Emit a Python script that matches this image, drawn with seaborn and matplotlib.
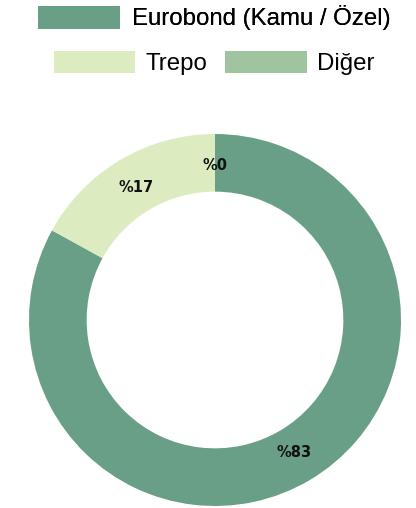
import matplotlib
matplotlib.use("Agg")
import matplotlib.pyplot as plt
import seaborn as sns
from matplotlib.patches import Patch

categories = ["Eurobond (Kamu / Özel)", "Trepo", "Diğer"]
values = [83, 17, 0]
colors = ["#6A9F87", "#DCECC0", "#A0C4A0"]

sns.set_theme(style="white")
plt.rcParams['font.family'] = ['Liberation Sans', 'DejaVu Sans']

W, H = 416, 508
fig = plt.figure(figsize=(W / 100, H / 100), dpi=100)
cx, cy, R = 215, 320, 186
ax = fig.add_axes([(cx - R) / W, (H - cy - R) / H, 2 * R / W, 2 * R / H])

wedges, texts, autotexts = ax.pie(
    values, colors=colors, startangle=90, counterclock=False,
    autopct='%%%.0f', pctdistance=0.83,
    wedgeprops=dict(width=0.31, linewidth=0),
    textprops=dict(fontsize=10.5, fontweight='bold', color='#111111', family='DejaVu Sans'),
)
ax.set_xlim(-1, 1)
ax.set_ylim(-1, 1)
ax.set_aspect('equal')
ax.axis('off')

fs = 17.3
handles = [Patch(facecolor=c, edgecolor='none') for c in colors]
leg1 = fig.legend([handles[0]], [categories[0]], loc='center', bbox_to_anchor=(214 / W, 1 - 18 / H),
                  frameon=False, fontsize=fs, handlelength=3.4, handleheight=1.08,
                  handletextpad=0.5, labelcolor='black', borderpad=0.1)
leg2 = fig.legend(handles[1:], categories[1:], loc='center', bbox_to_anchor=(214 / W, 1 - 63 / H),
                  ncol=2, frameon=False, fontsize=fs, handlelength=3.4, handleheight=1.08,
                  handletextpad=0.42, columnspacing=0.75, labelcolor='black', borderpad=0.1)
fig.add_artist(leg1)

fig.savefig("out.png", dpi=100)
